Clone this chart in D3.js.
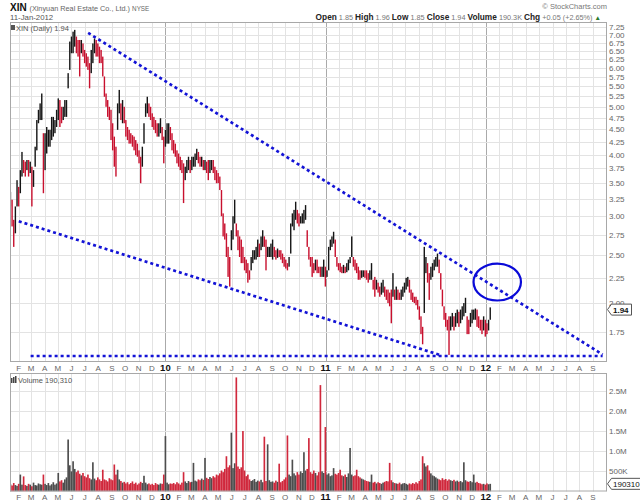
<!DOCTYPE html>
<html><head><meta charset="utf-8">
<script src="https://cdn.jsdelivr.net/npm/d3@7"></script>
<style>body{margin:0;background:#fff} svg text{font-family:"Liberation Sans",Arial,sans-serif}</style>
</head><body><svg id="c" width="640" height="504"></svg>
<script>
// ---- data ----
const firstDate = "2009-01-13", lastDate = "2012-01-11";
const priceHigh = [3.36,3.24,2.95,3.14,3.55,3.44,3.72,4.05,3.90,3.87,
3.90,3.90,3.87,3.78,3.72,4.15,4.70,4.93,5.08,5.32,
4.42,4.42,4.55,4.49,4.49,4.77,4.77,4.70,4.93,5.20,
5.16,5.00,5.00,5.16,5.16,5.85,6.78,6.94,7.10,7.16,
6.94,6.83,6.83,6.83,6.72,6.52,6.42,6.32,6.13,6.52,
6.72,6.88,6.83,6.72,6.62,6.52,6.32,5.76,5.32,5.16,
5.00,4.93,4.63,4.35,4.15,5.08,5.41,5.08,5.16,5.00,
4.70,4.55,4.49,4.42,4.38,4.35,4.28,4.21,4.08,3.96,
4.15,4.63,5.08,5.24,5.08,5.00,4.85,4.77,4.70,4.63,
4.63,4.74,4.55,4.35,4.49,4.63,4.63,4.55,4.42,4.28,
4.21,4.08,4.02,3.96,3.90,3.84,3.78,3.90,3.96,3.90,
3.96,3.96,4.02,4.11,4.05,3.96,3.96,3.90,3.90,3.87,
3.90,3.90,3.90,3.90,3.78,3.72,3.67,3.61,3.39,3.04,
2.90,2.77,2.60,2.48,2.81,3.00,3.24,2.90,2.81,2.73,
2.69,2.60,2.48,2.45,2.41,2.33,2.48,2.56,2.56,2.60,
2.69,2.64,2.73,2.81,2.73,2.69,2.60,2.60,2.64,2.69,
2.60,2.56,2.58,2.56,2.56,2.52,2.48,2.45,2.41,2.48,
2.90,3.04,3.09,3.21,3.09,3.04,3.00,3.04,3.09,3.16,
2.81,2.60,2.48,2.48,2.41,2.45,2.45,2.37,2.37,2.37,
2.45,2.37,2.33,2.60,2.69,2.73,2.79,2.69,2.48,2.41,
2.41,2.37,2.39,2.37,2.41,2.45,2.48,2.73,2.48,2.45,
2.41,2.37,2.33,2.33,2.33,2.33,2.33,2.30,2.33,2.41,
2.23,2.26,2.23,2.20,2.16,2.20,2.23,2.16,2.13,2.13,
2.10,2.13,2.30,2.13,2.16,2.13,2.10,2.13,2.16,2.20,
2.25,2.26,2.23,2.13,2.10,2.06,2.06,2.03,1.97,1.88,
1.79,2.60,2.48,2.41,2.30,2.37,2.41,2.45,2.48,2.52,
2.45,2.30,2.13,1.97,1.91,1.85,1.88,1.88,1.91,1.88,
1.91,1.94,1.92,1.94,1.97,2.00,2.05,1.88,1.85,1.91,
1.94,1.94,1.95,1.94,1.88,1.85,1.85,1.88,1.85,1.82,
1.85,1.96];
const priceLow = [3.14,2.86,2.60,2.77,3.14,3.14,3.34,3.61,3.67,3.61,
3.72,3.61,3.67,3.14,3.44,3.78,4.08,4.63,4.70,4.70,
3.34,3.72,4.02,4.15,4.15,4.28,4.35,4.42,4.55,4.70,
4.55,4.63,4.70,4.77,4.77,5.45,5.94,6.42,6.42,6.62,
6.42,6.32,5.76,6.42,6.32,6.13,6.03,5.94,5.45,5.85,
6.13,6.42,6.32,6.32,6.13,6.13,5.76,5.24,5.00,4.77,
4.70,4.28,4.08,3.78,3.61,4.49,4.85,4.70,4.63,4.63,
4.35,4.28,4.21,4.21,4.15,4.08,3.99,3.96,3.84,3.50,
3.78,4.21,4.77,4.85,4.77,4.70,4.55,4.49,4.42,4.35,
4.35,4.42,4.28,3.84,4.15,4.21,4.21,4.28,4.08,4.02,
3.96,3.84,3.78,3.72,3.67,3.19,3.55,3.67,3.72,3.67,
3.72,3.78,3.78,3.90,3.84,3.78,3.78,3.72,3.72,3.67,
3.55,3.67,3.72,3.67,3.55,3.50,3.50,3.39,3.00,2.73,
2.69,2.48,2.26,2.16,2.56,2.69,2.90,2.73,2.56,2.48,
2.41,2.41,2.33,2.30,2.20,2.23,2.33,2.41,2.45,2.45,
2.48,2.48,2.56,2.60,2.60,2.33,2.48,2.48,2.48,2.45,
2.48,2.45,2.47,2.48,2.45,2.41,2.37,2.35,2.33,2.37,
2.52,2.86,2.81,2.95,2.90,2.86,2.90,2.90,2.90,2.95,
2.60,2.45,2.37,2.26,2.30,2.33,2.30,2.30,2.26,2.26,
2.26,2.16,2.26,2.33,2.56,2.60,2.64,2.48,2.37,2.33,
2.31,2.30,2.30,2.30,2.31,2.33,2.41,2.48,2.37,2.33,
2.30,2.23,2.23,2.25,2.26,2.25,2.23,2.20,2.23,2.23,
2.13,2.06,2.13,2.10,2.06,2.08,2.10,2.06,2.03,2.00,
1.97,1.82,2.06,2.03,2.03,2.03,2.03,2.03,2.06,2.10,
2.13,2.16,2.10,2.03,2.01,2.00,1.98,1.94,1.85,1.73,
1.65,1.91,2.30,2.20,2.03,2.23,2.26,2.33,2.37,2.37,
2.30,2.13,1.97,1.85,1.79,1.76,1.57,1.76,1.79,1.76,
1.79,1.82,1.79,1.82,1.85,1.88,1.91,1.73,1.73,1.79,
1.82,1.85,1.85,1.79,1.78,1.76,1.73,1.76,1.71,1.73,
1.76,1.85];
const volumeK = [180,150,210,160,140,190,420,170,375,160,
140,190,170,130,220,160,150,200,180,170,
420,190,160,210,150,180,230,170,200,460,
250,280,220,300,350,1290,650,500,750,560,
480,520,440,400,460,380,350,420,330,300,
725,320,280,350,300,260,540,300,280,250,
330,300,280,670,420,540,300,260,220,240,
200,230,180,210,250,190,220,170,200,240,
210,390,220,180,200,170,190,160,210,180,
170,200,190,420,1375,220,180,200,190,210,
180,230,200,170,220,480,250,210,260,230,
240,710,270,250,300,280,320,290,833,340,
310,360,330,380,350,420,400,450,520,480,
560,875,600,650,1460,580,700,2830,620,560,
600,1500,520,380,420,300,260,280,310,240,
270,250,290,230,1360,260,1170,280,240,250,
220,270,240,690,230,260,300,350,1390,420,
380,790,450,400,480,420,500,460,975,520,
560,1325,480,440,520,460,400,480,2640,500,
460,1600,420,450,380,400,580,440,420,460,
540,400,380,420,360,450,1080,420,380,400,
540,380,350,320,300,280,260,250,240,420,
220,240,200,230,210,190,220,240,260,250,
710,280,230,210,200,190,220,180,200,210,
190,170,200,180,210,190,230,200,260,300,
875,700,620,650,520,450,400,380,350,320,
300,280,330,290,310,270,300,280,260,290,
250,270,240,260,230,725,280,250,240,260,
230,420,220,240,210,200,180,190,170,200,
180,190];
const priceTicks = [1.75,2.00,2.25,2.50,2.75,3.00,3.25,3.50,3.75,4.00,4.25,4.50,4.75,5.00,5.25,5.50,5.75,6.00,6.25,6.50,6.75,7.00,7.25];
const volumeTicks = [500000,1000000,1500000,2000000,2500000];
const volumeTickLabels = ["500K","1.0M","1.5M","2.0M","2.5M"];
const monthLetters = ["J","F","M","A","M","J","J","A","S","O","N","D"];
const lastPrice = 1.94, lastVolume = 190310;
// annotation lines drawn on the chart: [date, price]
const trendUpper = [["2009-07-09",7.06],["2012-09-23",1.573]];
const trendLower = [["2009-02-01",2.93],["2011-09-18",1.57]];
const supportLine = [["2009-02-28",1.562],["2012-09-23",1.562]];
const circleBox = {from:"2011-12-04", to:"2012-03-21", top:2.405, bottom:2.024};

// ---- layout ----
const L=10,R=607,PT=22,PB=362,VT=373,VB=491.5;
const svg=d3.select("#c");
const pd=s=>new Date(s+"T00:00:00");
const x=d3.scaleTime().domain([new Date(2009,0,12),new Date(2012,9,3)]).range([L,R]);
const y=d3.scaleLog().domain([1.519,7.428]).range([PB,PT]);
const yv=d3.scaleLinear().domain([0,2940000]).range([VB,VT]);
const n=priceHigh.length;
const dateAt=d3.scaleLinear().domain([0,n-1]).range([+pd(firstDate),+pd(lastDate)]);
const data=priceHigh.map((h,i)=>({date:new Date(dateAt(i)),high:h,low:priceLow[i],vol:volumeK[i]*1000}));
data.forEach((d,i)=>{const m=(d.high+d.low)/2;const pm=i?(data[i-1].high+data[i-1].low)/2:m;d.up=m>=pm;});
const step=x(data[1].date)-x(data[0].date);

// grids
const months=d3.timeMonth.range(new Date(2009,1,1),new Date(2012,9,2));
const g=svg.append("g");
[[PT,PB],[VT,VB]].forEach(([a,b])=>{
  g.selectAll(null).data(months).enter().append("line")
   .attr("x1",d=>Math.round(x(d))+0.5).attr("x2",d=>Math.round(x(d))+0.5).attr("y1",a).attr("y2",b)
   .attr("stroke",d=>d.getMonth()===0?"#aaaaaa":"#e3e3e3").attr("stroke-width",1);
});
g.selectAll(null).data(priceTicks).enter().append("line")
 .attr("x1",L).attr("x2",R).attr("y1",d=>Math.round(y(d))+0.5).attr("y2",d=>Math.round(y(d))+0.5)
 .attr("stroke","#e3e3e3");
g.selectAll(null).data(volumeTicks).enter().append("line")
 .attr("x1",L).attr("x2",R).attr("y1",d=>Math.round(yv(d))+0.5).attr("y2",d=>Math.round(yv(d))+0.5)
 .attr("stroke","#e3e3e3");

// clip
const defs=svg.append("defs");
defs.append("clipPath").attr("id","cp").append("rect").attr("x",L).attr("y",PT).attr("width",R-L).attr("height",PB-PT);
defs.append("clipPath").attr("id","cv").append("rect").attr("x",L).attr("y",VT).attr("width",R-L).attr("height",VB-VT);

// price bars
svg.append("g").attr("clip-path","url(#cp)").selectAll("rect").data(data).enter().append("rect")
 .attr("x",d=>x(d.date)-0.7).attr("width",1.4)
 .attr("y",d=>y(d.high)).attr("height",d=>Math.max(1,y(d.low)-y(d.high)))
 .attr("fill",d=>d.up?"#151515":"#c8102e");

// volume bars
svg.append("g").attr("clip-path","url(#cv)").selectAll("rect").data(data).enter().append("rect")
 .attr("x",d=>x(d.date)-step/2).attr("width",step)
 .attr("y",d=>yv(d.vol)).attr("height",d=>VB-yv(d.vol))
 .attr("fill",d=>d.up?"#4d4d4d":"#d0283c");

// panel borders
[[PT,PB],[VT,VB]].forEach(([a,b])=>svg.append("rect").attr("x",L+0.5).attr("y",a+0.5).attr("width",R-L-1).attr("height",b-a-1)
  .attr("fill","none").attr("stroke","#a8a8a8"));

// annotations
const line=d3.line().x(d=>x(pd(d[0]))).y(d=>y(d[1]));
[trendUpper,trendLower,supportLine].forEach(t=>svg.append("path").attr("d",line(t))
  .attr("fill","none").attr("stroke","#1313d6").attr("stroke-width",2.7).attr("stroke-dasharray","3,3"));
const cx=(x(pd(circleBox.from))+x(pd(circleBox.to)))/2, cy=(y(circleBox.top)+y(circleBox.bottom))/2;
svg.append("ellipse").attr("cx",cx).attr("cy",cy)
 .attr("rx",(x(pd(circleBox.to))-x(pd(circleBox.from)))/2).attr("ry",(y(circleBox.bottom)-y(circleBox.top))/2)
 .attr("fill","none").attr("stroke","#0a0ad8").attr("stroke-width",2.2);

// x-axis labels
const labelMonths=months.filter(d=>d<new Date(2012,9,1));
[371,500].forEach(by=>{
  svg.selectAll(null).data(labelMonths).enter().append("text")
   .attr("x",d=>x(d)).attr("y",by).attr("text-anchor","middle")
   .attr("font-size",d=>d.getMonth()===0?9.5:8).attr("font-weight",d=>d.getMonth()===0?"bold":"normal")
   .attr("fill",d=>d.getMonth()===0?"#111":"#666")
   .text(d=>d.getMonth()===0?d3.timeFormat("%y")(d):monthLetters[d.getMonth()]);
});

// right axis labels
svg.selectAll(null).data(priceTicks).enter().append("text")
 .attr("x",609).attr("y",d=>y(d)+3).attr("font-size",8).attr("fill","#666").text(d=>d3.format(".2f")(d));
svg.selectAll(null).data(volumeTicks).enter().append("text")
 .attr("x",609).attr("y",d=>yv(d)+3).attr("font-size",8).attr("fill","#666").text((d,i)=>volumeTickLabels[i]);

// last value tags
function tag(yc,w,txt,bold){
  svg.append("path").attr("d",`M${R+0.5},${yc} L${R+4.5},${yc-5.5} L${R+4.5+w},${yc-5.5} L${R+4.5+w},${yc+5.5} L${R+4.5},${yc+5.5} Z`)
    .attr("fill","#fff").attr("stroke","#555");
  svg.append("text").attr("x",R+6).attr("y",yc+3).attr("font-size",8).attr("font-weight",bold?"bold":"normal").attr("fill","#111").text(txt);
}
tag(y(lastPrice),20,d3.format(".2f")(lastPrice),true);
tag(yv(lastVolume),40,d3.format(".1f")(lastVolume),false);

// header
const h=svg.append("text").attr("x",10).attr("y",10.5);
h.append("tspan").attr("font-size",10).attr("font-weight","bold").attr("fill","#111").text("XIN ");
h.append("tspan").attr("font-size",7.3).attr("fill","#666").text("(Xinyuan Real Estate Co., Ltd.) ");
h.append("tspan").attr("font-size",6.3).attr("fill","#666").text("NYSE");
svg.append("text").attr("x",10).attr("y",19.5).attr("font-size",7.8).attr("fill","#555").text("11-Jan-2012");
svg.append("text").attr("x",R).attr("y",9).attr("text-anchor","end").attr("font-size",7.5).attr("fill","#777").text("© StockCharts.com");
const q=svg.append("text").attr("x",601).attr("y",19.5).attr("text-anchor","end");
[["Open"," 1.85 "],["High"," 1.96 "],["Low"," 1.85 "],["Close"," 1.94 "],["Volume"," 190.3K "],["Chg"," +0.05 (+2.65%) "]].forEach(([a,b])=>{
  q.append("tspan").attr("font-size",8.3).attr("font-weight","bold").attr("fill","#222").text(a);
  q.append("tspan").attr("font-size",7.3).attr("fill","#777").text(b);
});
q.append("tspan").attr("font-size",6.5).attr("fill","#2a7a2a").text("▲");

// panel legends
svg.append("rect").attr("x",11).attr("y",25).attr("width",4).attr("height",5).attr("fill","#555");
svg.append("text").attr("x",16).attr("y",30.5).attr("font-size",7.5).attr("fill","#555")
 .attr("font-family","DejaVu Sans Mono,monospace").text("XIN (Daily) "+d3.format(".2f")(lastPrice));
[0,2,4].forEach((o,i)=>svg.append("rect").attr("x",11+o).attr("y",378-i).attr("width",1.5).attr("height",5+i).attr("fill","#444"));
svg.append("text").attr("x",18).attr("y",383).attr("font-size",7.5).attr("fill","#555")
 .attr("font-family","DejaVu Sans Mono,monospace").text("Volume "+d3.format(",")(lastVolume));
</script></body></html>
